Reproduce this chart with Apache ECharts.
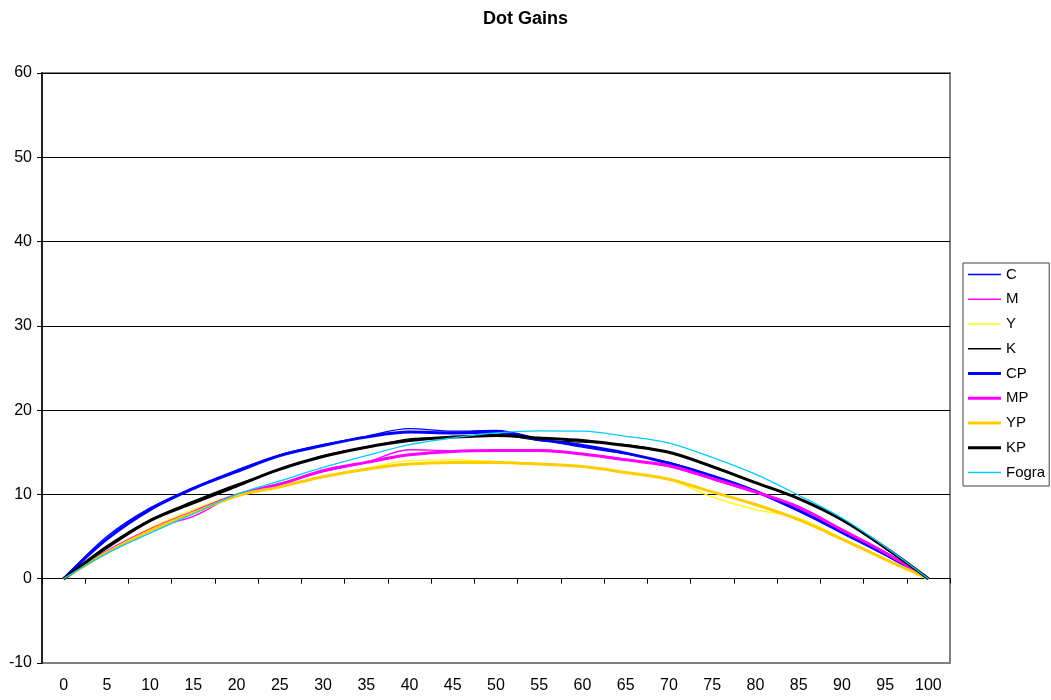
<!DOCTYPE html>
<html>
<head>
<meta charset="utf-8">
<script src="https://cdn.jsdelivr.net/npm/echarts@6/dist/echarts.min.js"></script>
<style>html,body{margin:0;padding:0;background:#fff}#c{width:1051px;height:700px}</style>
</head>
<body>
<div id="c"></div>
<script>
const categories = ['0','5','10','15','20','25','30','35','40','45','50','55','60','65','70','75','80','85','90','95','100'];
const yTicks = { min: -10, max: 60, interval: 10 };

const C     = [0, 5.0, 8.4, 10.8, 12.9, 14.7, 15.9, 16.9, 17.8, 17.5, 17.6, 16.6, 15.6, 14.8, 13.8, 12.2, 10.3, 8.0, 5.5, 2.8, 0];
const M     = [0, 3.2, 5.9, 7.4, 10.0, 11.3, 12.7, 13.8, 15.3, 15.2, 15.2, 15.3, 14.8, 14.2, 13.3, 11.8, 10.2, 8.4, 5.8, 3.0, 0];
const Y     = [0, 3.2, 6.0, 8.2, 10.0, 10.9, 12.1, 13.1, 14.0, 14.1, 13.9, 13.6, 13.3, 12.6, 11.8, 9.7, 8.2, 7.2, 4.8, 2.4, 0];
const K     = [0, 3.9, 7.0, 9.2, 11.2, 12.9, 14.6, 15.6, 16.6, 16.8, 17.1, 16.4, 16.2, 15.9, 15.0, 13.4, 11.4, 9.5, 7.0, 3.6, 0];
const CP    = [0, 4.7, 8.2, 10.7, 12.7, 14.6, 15.8, 16.8, 17.4, 17.3, 17.4, 16.5, 15.8, 14.9, 13.7, 12.2, 10.4, 8.1, 5.5, 2.9, 0];
const MP    = [0, 3.2, 5.8, 7.9, 9.9, 11.2, 12.8, 13.8, 14.7, 15.1, 15.2, 15.2, 14.8, 14.1, 13.4, 11.9, 10.3, 8.5, 5.8, 3.1, 0];
const YP    = [0, 3.1, 5.7, 7.8, 9.8, 10.9, 12.1, 13.0, 13.6, 13.8, 13.8, 13.6, 13.3, 12.6, 11.8, 10.3, 8.8, 7.0, 4.7, 2.3, 0];
const KP    = [0, 3.7, 6.9, 9.0, 11.0, 13.0, 14.5, 15.6, 16.4, 16.8, 17.0, 16.7, 16.4, 15.8, 15.0, 13.3, 11.4, 9.5, 7.0, 3.7, 0];
const Fogra = [0, 3.0, 5.4, 7.7, 10.0, 11.6, 13.2, 14.6, 15.9, 16.7, 17.3, 17.55, 17.5, 16.9, 16.1, 14.4, 12.4, 9.9, 7.2, 3.8, 0];

const seriesDefs = [
  ['C', C, '#0000FF', 1.3],
  ['M', M, '#FF00FF', 1.3],
  ['Y', Y, '#FFFF00', 1.3],
  ['K', K, '#000000', 1.3],
  ['CP', CP, '#0000FF', 3],
  ['MP', MP, '#FF00FF', 3],
  ['YP', YP, '#FFCC00', 3],
  ['KP', KP, '#000000', 3],
  ['Fogra', Fogra, '#00CCFF', 1.3]
];

// legend line icon: a bar of the series' line width, centred in a 33x14 box
function lineIcon(w) {
  const a = (7 - w / 2).toFixed(2), b = (7 + w / 2).toFixed(2);
  return 'path://M0,0M33,14M0,' + a + 'L33,' + a + 'L33,' + b + 'L0,' + b + 'Z';
}

const FONT = '"Liberation Sans", Arial, sans-serif';
const chart = echarts.init(document.getElementById('c'), null, { renderer: 'canvas' });
chart.setOption({
  backgroundColor: '#ffffff',
  animation: false,
  textStyle: { fontFamily: FONT },
  title: {
    text: 'Dot Gains', left: 'center', top: 5,
    textStyle: { fontFamily: FONT, fontSize: 18, fontWeight: 'bold', color: '#000' }
  },
  legend: {
    orient: 'vertical', left: 963, top: 263,
    padding: [4, 4, 6, 5],
    itemWidth: 33, itemHeight: 14, itemGap: 9.75,
    borderColor: '#444', borderWidth: 1,
    symbolKeepAspect: false,
    textStyle: { fontFamily: FONT, fontSize: 15, color: '#000' },
    data: seriesDefs.map(([name, , color, w]) => ({
      name, icon: lineIcon(w), itemStyle: { color: color, borderWidth: 0 }
    }))
  },
  grid: {
    left: 42, right: 101, top: 73, bottom: 37,
    show: true, borderColor: '#808080', borderWidth: 2, backgroundColor: '#fff'
  },
  xAxis: [
    {
      type: 'category', data: categories, position: 'bottom', boundaryGap: true,
      axisLine: { show: false, onZero: false }, axisTick: { show: false },
      axisLabel: { margin: 15, fontSize: 16, color: '#000', fontFamily: FONT, interval: 0 },
      splitLine: { show: false }
    },
    {
      type: 'category', data: categories, position: 'bottom', boundaryGap: true,
      axisLine: { show: true, onZero: true, lineStyle: { color: '#000', width: 1 } },
      axisTick: { show: true, length: 5, inside: false, lineStyle: { color: '#000' }, interval: 0 },
      axisLabel: { show: false },
      splitLine: { show: false }
    }
  ],
  yAxis: {
    type: 'value', min: yTicks.min, max: yTicks.max, interval: yTicks.interval,
    axisLine: { show: true, lineStyle: { color: '#222', width: 2 } },
    axisTick: { show: true, length: 5, lineStyle: { color: '#000' } },
    axisLabel: { margin: 10, fontSize: 16, color: '#000', fontFamily: FONT },
    splitLine: { show: true, showMinLine: false, lineStyle: { color: '#000', width: 1 } }
  },
  series: seriesDefs.map(([name, data, color, w]) => ({
    name, type: 'line', data, xAxisIndex: 0,
    smooth: 0.35, symbol: 'none',
    color: color,
    lineStyle: { color: color, width: w },
    itemStyle: { color: color }
  }))
});
</script>
</body>
</html>
